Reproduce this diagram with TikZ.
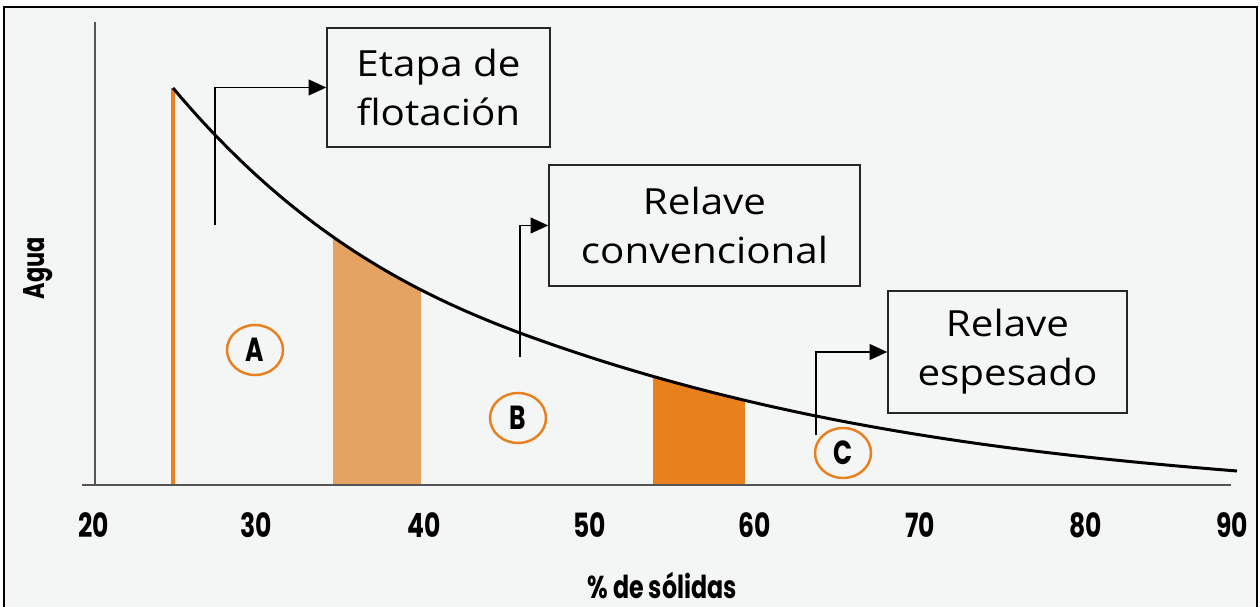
\documentclass[tikz,border=0pt]{standalone}
\usepackage{fontspec}
\usepackage{xcolor}
\usepackage{tikz}
\usetikzlibrary{
    shapes.geometric,
    arrows.meta,
    positioning
}
\newfontfamily\boxfont[FakeStretch=1.12]{Open Sans}
\newfontfamily\geofont[FakeStretch=0.75]{Poppins}
\definecolor{fondo}{HTML}{F4F5F5}
\definecolor{naranja}{HTML}{E8801E}
\definecolor{naranjaclaro}{HTML}{E4A263}
\definecolor{eje}{HTML}{555555}
\tikzstyle{arrow} = [
    line width=0.9pt,
    -{Triangle[length=10pt,width=9pt]}
]
\tikzstyle{etapa} = [
    draw=black!85,
    line width=0.9pt,
    align=center,
    inner sep=0pt,
    font=\boxfont\fontsize{20.5}{28}\selectfont
]
\tikzstyle{zona} = [
    ellipse,
    draw=naranja,
    line width=1.4pt,
    minimum width=56*\px,
    minimum height=50*\px,
    inner sep=0pt,
    font=\geofont\bfseries\fontsize{19}{19}\selectfont
]
\tikzstyle{eje} = [
    draw=eje,
    line width=1.1pt
]
\def\px{0.02cm}

\begin{document}
\begin{tikzpicture}[x=\px, y=-\px]
% Rahmen und Hintergrund
\useasboundingbox (0,0) rectangle (1260,607);
\fill[white] (0,0) rectangle (1260,607);
\filldraw[fill=fondo, draw=black, line width=1.3pt] (4,7) rectangle (1257,640);

% Zonen unter der Kurve
\begin{scope}
    \clip (173,485) -- (173,88) .. controls (289,226) and (404,290) .. (520,333)
        .. controls (759,421) and (998,452) .. (1237,471) -- (1237,485) -- cycle;
    \fill[naranjaclaro] (333,0) rectangle (421,485);
    \fill[naranja] (653,0) rectangle (745,485);
\end{scope}

% Orange Linie
\draw[naranja, line width=1.9pt] (173,485) -- (173,88);

% Achsen
\draw[eje] (95,22) -- (95,485);
\draw[eje] (82,485) -- (1231,485);

% Kurve
\draw[line width=1.7pt] (173,88) .. controls (289,226) and (404,290) .. (520,333)
    .. controls (759,421) and (998,452) .. (1237,471);

% Achsenbeschriftung
\foreach \v/\xx in {20/94, 30/256, 40/424, 50/590, 60/755, 70/920, 80/1086, 90/1232} {
    \node[font=\geofont\bfseries\fontsize{19}{19}\selectfont] (t\v) at (\xx,525) {\v};
}
\node[font=\geofont\bfseries\fontsize{18}{18}\selectfont] (solidos) at (662,585) {\% de sólidas};
\node[font=\geofont\bfseries\fontsize{17}{17}\selectfont, rotate=90] (agua) at (38,268) {Agua};

% Kästen
\node[etapa, minimum width=223*\px, minimum height=119*\px] (flot) at (438.5,87.5)
    {Etapa de\\flotación};
\node[etapa, minimum width=311*\px, minimum height=121*\px] (conv) at (704.5,225.5)
    {Relave\\convencional};
\node[etapa, minimum width=239*\px, minimum height=122*\px] (esp) at (1007.5,352)
    {Relave\\espesado};

% Pfeile
\coordinate (p1) at (215,225);
\coordinate (p2) at (520,357);
\coordinate (p3) at (816,435);
\draw[arrow] (p1) |- (flot.west);
\draw[arrow] (p2) |- (conv.west);
\draw[arrow] (p3) |- (esp.west);

% Zonen A, B, C
\node[zona] (zA) at (255,350) {A};
\node[zona] (zB) at (518,418) {B};
\node[zona] (zC) at (843,453) {C};
\end{tikzpicture}
\end{document}
